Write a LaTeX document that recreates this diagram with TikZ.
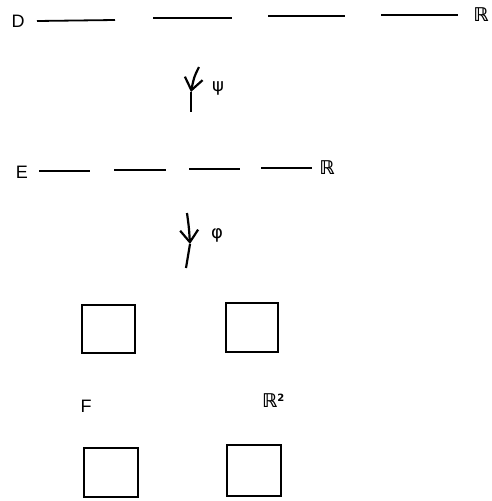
\documentclass[tikz,border=0pt]{standalone}
\usepackage{fontspec}
\setsansfont{Liberation Sans}
\newfontfamily\symfont{DejaVu Sans}
\usetikzlibrary{arrows.meta}
\begin{document}
\begin{tikzpicture}[x=1pt,y=-1pt,
  lbl/.style={font=\sffamily\fontsize{18}{18}\selectfont, inner sep=0pt},
  rlbl/.style={font=\symfont\bfseries\fontsize{19}{19}\selectfont, inner sep=0pt},
  glbl/.style={font=\symfont\fontsize{18}{18}\selectfont, inner sep=0pt},
  seg/.style={line width=1.8pt},
  map/.style={line width=2.2pt},
  maptip/.style={map,-{Straight Barb[length=12pt,width=18pt,line width=2.2pt]}},
  cell/.style={draw, line width=1.5pt, inner sep=0pt}]
\useasboundingbox (0,0) rectangle (491,501);

% top line D -> R, broken into four pieces
\node[lbl] (D) at (18,21) {D};
\node[rlbl] (R1) at (481,15) {ℝ};
\coordinate (d1a) at (37,21);  \coordinate (d1b) at (115,20);
\coordinate (d2a) at (153,18); \coordinate (d2b) at (232,18);
\coordinate (d3a) at (268,16); \coordinate (d3b) at (345,16);
\coordinate (d4a) at (381,15); \coordinate (d4b) at (458,15);
\draw[seg] (d1a) -- (d1b);
\draw[seg] (d2a) -- (d2b);
\draw[seg] (d3a) -- (d3b);
\draw[seg] (d4a) -- (d4b);

% map psi
\coordinate (psiTop) at (199,67);
\coordinate (psiTip) at (191,92);
\coordinate (psiEnd) at (191,112);
\draw[maptip] (psiTop) .. controls (194,77) .. (psiTip);
\draw[map] (psiTip) -- (psiEnd);
\node[glbl] (psi) at (218,88) {ψ};

% middle line E -> R
\node[lbl] (E) at (22,172) {E};
\node[rlbl] (R2) at (327,168) {ℝ};
\coordinate (e1a) at (39,171);  \coordinate (e1b) at (90,171);
\coordinate (e2a) at (114,170); \coordinate (e2b) at (166,170);
\coordinate (e3a) at (189,169); \coordinate (e3b) at (240,169);
\coordinate (e4a) at (261,168); \coordinate (e4b) at (312,168);
\draw[seg] (e1a) -- (e1b);
\draw[seg] (e2a) -- (e2b);
\draw[seg] (e3a) -- (e3b);
\draw[seg] (e4a) -- (e4b);

% map phi
\coordinate (phiTop) at (187,213);
\coordinate (phiTip) at (190,244);
\coordinate (phiEnd) at (186,268);
\draw[maptip] (phiTop) .. controls (189,228) .. (phiTip);
\draw[map] (phiTip) -- (phiEnd);
\node[glbl] (phi) at (217,235) {φ};

% the plane F with four squares
\node[cell, minimum width=53pt, minimum height=48pt] (sq1) at (108.5,329) {};
\node[cell, minimum width=52pt, minimum height=49pt] (sq2) at (252,327.5) {};
\node[cell, minimum width=54pt, minimum height=49pt] (sq3) at (111,472.5) {};
\node[cell, minimum width=54pt, minimum height=51pt] (sq4) at (254,470.5) {};
\node[lbl] (F) at (86,406) {F};
\node[rlbl, anchor=west] (R3) at (262,401) {ℝ\raisebox{6pt}{\fontsize{10}{10}\selectfont 2}};
\end{tikzpicture}
\end{document}
